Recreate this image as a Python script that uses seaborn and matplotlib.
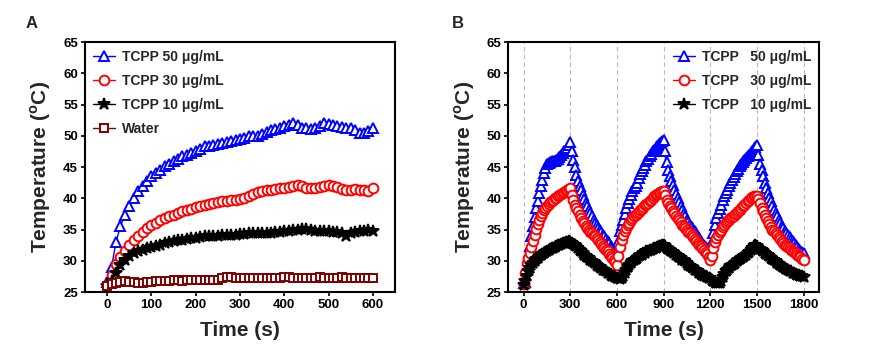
"""Photothermal heating curves of TCPP solutions (panels A and B)."""

import matplotlib
matplotlib.use("Agg")
import matplotlib.pyplot as plt
import numpy as np
import seaborn as sns

# ---- panel A: heating curves, one reading every 10 s ----
time_a = np.arange(0, 610, 10)
tcpp50_a = [26.6, 29.0, 33.0, 35.5, 37.3, 38.8, 40.1, 41.1, 42.0, 42.8,
            43.5, 44.1, 44.6, 45.1, 45.5, 45.9, 46.3, 46.7, 47.0, 47.3,
            47.6, 47.9, 48.3, 48.4, 48.5, 48.7, 48.8, 49.0, 49.1, 49.3, 49.5,
            49.7, 49.9, 50.0, 50.0, 50.3, 50.6, 50.9, 51.1, 51.3, 51.5,
            51.8, 52.1, 51.7, 51.3, 51.2, 51.1, 51.2, 51.6, 52.0, 51.9,
            51.8, 51.5, 51.4, 51.3, 51.2, 51.0, 50.5, 50.5, 50.8, 51.2]
tcpp30_a = [26.1, 27.7, 29.5, 30.6, 31.5, 32.5, 33.3, 34.0, 34.6, 35.2,
            35.7, 36.1, 36.5, 36.8, 37.1, 37.3, 37.6, 37.9, 38.1, 38.3,
            38.6, 38.8, 38.9, 39.1, 39.2, 39.4, 39.5, 39.6, 39.7, 39.7, 39.9,
            40.1, 40.4, 40.7, 41.0, 41.2, 41.3, 41.4, 41.5, 41.6, 41.7,
            41.8, 41.9, 42.1, 41.9, 41.6, 41.6, 41.7, 41.8, 41.9, 42.1,
            42.0, 41.8, 41.5, 41.3, 41.4, 41.5, 41.4, 41.3, 41.2, 41.6]
tcpp10_a = [26.0, 26.8, 28.0, 29.3, 30.2, 30.8, 31.2, 31.5, 31.8, 32.0,
            32.2, 32.4, 32.6, 32.8, 33.0, 33.2, 33.3, 33.4, 33.5, 33.6,
            33.7, 33.8, 33.9, 33.9, 34.0, 34.0, 34.1, 34.1, 34.2, 34.2, 34.3,
            34.3, 34.4, 34.4, 34.4, 34.5, 34.5, 34.5, 34.6, 34.6, 34.7,
            34.8, 34.9, 35.0, 35.1, 35.1, 34.9, 34.8, 34.8, 34.7, 34.7,
            34.6, 34.6, 34.5, 34.0, 34.4, 34.6, 34.7, 34.8, 35.0, 34.8]
water_a = [26.0, 26.3, 26.5, 26.6, 26.7, 26.6, 26.6, 26.5, 26.5, 26.6,
           26.6, 26.7, 26.8, 26.8, 26.8, 26.9, 26.9, 26.8, 26.9, 26.9,
           27.0, 26.9, 27.0, 26.9, 27.0, 27.0, 27.3, 27.4, 27.4, 27.3, 27.3,
           27.2, 27.2, 27.3, 27.3, 27.2, 27.2, 27.2, 27.3, 27.3, 27.4,
           27.4, 27.3, 27.3, 27.3, 27.2, 27.3, 27.3, 27.4, 27.3, 27.3,
           27.2, 27.3, 27.4, 27.3, 27.3, 27.2, 27.2, 27.3, 27.3, 27.3]

# ---- panel B: three laser on/off cycles, one reading every 10 s ----
time_b = np.arange(0, 1810, 10)
tcpp50_b = [26.4, 26.6, 28.5, 30.1, 32.3, 34.0, 35.6, 37.0, 38.4, 39.6,
            40.8, 42.0, 43.0, 44.0, 44.8, 45.5, 45.7, 45.8, 45.9, 46.0,
            46.0, 46.1, 46.3, 46.6, 47.0, 47.3, 47.5, 47.8, 48.0, 48.5, 49.0,
            47.5, 46.2, 45.0, 43.8, 42.8, 42.0, 41.3, 40.6, 39.9, 39.3,
            38.7, 38.1, 37.6, 37.1, 36.6, 36.1, 35.7, 35.3, 34.9, 34.6,
            34.2, 33.9, 33.5, 33.1, 32.8, 32.4, 32.0, 31.7, 31.5, 31.6,
            33.0, 34.8, 35.7, 36.6, 37.5, 38.4, 39.2, 39.9, 40.5, 41.1,
            41.6, 42.0, 42.5, 43.2, 43.9, 44.4, 44.9, 45.4, 45.9, 46.3,
            46.7, 47.1, 47.5, 47.8, 48.1, 48.4, 48.7, 48.9, 49.1, 49.3,
            47.5, 45.8, 44.5, 43.5, 42.8, 42.1, 41.4, 40.7, 40.1, 39.4,
            38.7, 38.1, 37.6, 37.1, 36.6, 36.2, 35.8, 35.4, 35.0, 34.7,
            34.3, 33.9, 33.6, 33.2, 32.8, 32.5, 32.2, 31.8, 31.6, 31.5,
            33.0, 34.5, 35.8, 36.8, 37.6, 38.3, 39.0, 39.7, 40.3, 40.9,
            41.4, 41.9, 42.4, 42.9, 43.4, 43.9, 44.3, 44.7, 45.1, 45.5,
            45.8, 46.1, 46.4, 46.7, 47.0, 47.3, 47.6, 47.9, 48.2, 48.5,
            47.0, 45.5, 44.5, 43.5, 42.4, 41.6, 40.8, 40.1, 39.5, 38.8,
            38.2, 37.6, 37.1, 36.6, 36.1, 35.6, 35.2, 34.8, 34.4, 34.1,
            33.8, 33.4, 33.1, 32.8, 32.5, 32.2, 31.9, 31.6, 31.4, 31.2]
tcpp30_b = [26.3, 28.0, 29.6, 30.4, 31.2, 32.2, 33.2, 34.2, 35.1, 35.9,
            36.6, 37.1, 37.6, 38.1, 38.5, 38.8, 39.1, 39.4, 39.6, 39.8,
            40.0, 40.1, 40.3, 40.5, 40.7, 40.9, 41.0, 41.2, 41.3, 41.5, 41.6,
            40.6, 39.8, 39.0, 38.4, 37.9, 37.3, 36.8, 36.4, 36.0, 35.6,
            35.2, 34.9, 34.6, 34.4, 34.1, 33.9, 33.6, 33.3, 33.0, 32.7,
            32.4, 32.1, 31.8, 31.5, 31.1, 30.8, 30.4, 30.1, 29.8, 29.4,
            30.8, 32.2, 33.3, 34.1, 34.8, 35.3, 35.7, 36.1, 36.5, 36.8,
            37.1, 37.4, 37.6, 37.8, 38.1, 38.3, 38.6, 38.9, 39.1, 39.3,
            39.6, 39.8, 40.0, 40.3, 40.5, 40.7, 40.9, 41.0, 41.1, 41.2,
            40.6, 39.8, 39.2, 38.8, 38.4, 38.0, 37.6, 37.2, 36.9, 36.5,
            36.2, 35.8, 35.5, 35.2, 34.9, 34.6, 34.4, 34.1, 33.8, 33.5,
            33.2, 32.9, 32.6, 32.3, 32.0, 31.7, 31.4, 31.1, 30.6, 30.2,
            30.8, 32.0, 33.0, 33.7, 34.2, 34.6, 35.0, 35.4, 35.8, 36.1,
            36.3, 36.5, 36.8, 37.0, 37.2, 37.5, 37.7, 38.0, 38.2, 38.5,
            38.7, 39.0, 39.2, 39.5, 39.7, 40.0, 40.2, 40.3, 40.4, 40.3,
            39.9, 39.2, 38.5, 37.9, 37.3, 36.8, 36.3, 35.9, 35.4, 35.0,
            34.7, 34.4, 34.1, 33.8, 33.5, 33.2, 32.9, 32.6, 32.4, 32.2,
            32.0, 31.8, 31.6, 31.4, 31.2, 31.0, 30.8, 30.6, 30.3, 30.1]
tcpp10_b = [26.1, 26.8, 27.6, 28.3, 28.9, 29.4, 29.7, 30.0, 30.3, 30.5,
            30.7, 30.9, 31.1, 31.3, 31.4, 31.6, 31.7, 31.9, 32.0, 32.1,
            32.2, 32.4, 32.5, 32.6, 32.7, 32.8, 32.9, 33.0, 33.0, 33.1, 33.0,
            32.9, 32.7, 32.5, 32.3, 32.0, 31.7, 31.5, 31.2, 31.0, 30.8,
            30.6, 30.4, 30.2, 30.0, 29.8, 29.6, 29.4, 29.2, 29.0, 28.8,
            28.6, 28.5, 28.3, 28.1, 28.0, 27.8, 27.6, 27.5, 27.4, 27.3,
            27.2, 27.1, 27.2, 27.5, 28.0, 28.6, 29.0, 29.3, 29.6, 29.9,
            30.1, 30.3, 30.5, 30.7, 30.9, 31.0, 31.2, 31.3, 31.5, 31.6,
            31.7, 31.8, 31.9, 32.0, 32.1, 32.2, 32.3, 32.4, 32.5, 32.5,
            32.3, 32.1, 31.9, 31.7, 31.5, 31.4, 31.2, 31.0, 30.8, 30.6,
            30.4, 30.2, 30.1, 29.9, 29.6, 29.4, 29.2, 29.0, 28.8, 28.6,
            28.5, 28.3, 28.1, 27.9, 27.8, 27.6, 27.5, 27.4, 27.3, 27.2,
            27.0, 26.8, 26.6, 26.5, 26.4, 26.4, 26.8, 27.4, 27.9, 28.3,
            28.6, 28.9, 29.1, 29.3, 29.5, 29.7, 29.9, 30.1, 30.3, 30.4,
            30.6, 30.8, 31.0, 31.2, 31.4, 31.7, 32.0, 32.4, 32.5, 32.3,
            32.1, 31.9, 31.7, 31.5, 31.3, 31.1, 30.9, 30.7, 30.5, 30.3,
            30.1, 29.9, 29.7, 29.5, 29.3, 29.2, 29.0, 28.8, 28.7, 28.5,
            28.4, 28.3, 28.1, 28.0, 27.9, 27.8, 27.7, 27.6, 27.5, 27.4]

Y_TICKS = [25, 30, 35, 40, 45, 50, 55, 60, 65]
X_TICKS_A = [0, 100, 200, 300, 400, 500, 600]
X_TICKS_B = [0, 300, 600, 900, 1200, 1500, 1800]

BLUE, RED, BLACK, MAROON = "#0000FF", "#FF0000", "#000000", "#800000"

sns.set_theme(style="ticks")
plt.rcParams.update({
    "font.family": ["Liberation Sans", "DejaVu Sans"],
    "font.weight": "bold",
    "axes.labelweight": "bold",
    "mathtext.fontset": "custom",
    "mathtext.rm": "Liberation Sans:bold",
    "mathtext.bf": "Liberation Sans:bold",
    "axes.linewidth": 1.5,
    "axes.edgecolor": "black",
    "xtick.color": "black",
    "ytick.color": "black",
})


def draw(ax, x, y, color, marker, size, label, face="white", lw=1.0):
    sns.lineplot(x=x, y=y, ax=ax, color=color, marker=marker, markersize=size,
                 markerfacecolor=face, markeredgecolor=color,
                 markeredgewidth=1.4, linewidth=lw, label=label, sort=False)


def style_axes(ax, xticks, xlim):
    ax.set_xlim(*xlim)
    ax.set_ylim(25, 65)
    ax.set_xticks(xticks)
    ax.set_yticks(Y_TICKS)
    ax.tick_params(direction="out", length=3, width=1.2, labelsize=9.5, pad=2)
    for lab in ax.get_xticklabels() + ax.get_yticklabels():
        lab.set_fontweight("bold")
    ax.set_xlabel("Time (s)", fontsize=15, fontweight="bold", labelpad=7)
    ax.set_ylabel(r"Temperature ($^{\mathbf{o}}$C)", fontsize=15,
                  fontweight="bold", labelpad=7)
    for sp in ax.spines.values():
        sp.set_visible(True)
        sp.set_linewidth(1.5)


fig = plt.figure(figsize=(8.76, 3.54), dpi=100)
ax_a = fig.add_axes([0.097, 0.175, 0.354, 0.706])
ax_b = fig.add_axes([0.580, 0.175, 0.355, 0.706])

legend_kw = dict(frameon=False, handlelength=1.6, handletextpad=0.5,
                 labelspacing=0.72, borderaxespad=0.15,
                 prop={"weight": "bold", "size": 10})

# Panel A
draw(ax_a, time_a, tcpp50_a, BLUE, "^", 7.5, "TCPP 50 μg/mL")
draw(ax_a, time_a, tcpp30_a, RED, "o", 7, "TCPP 30 μg/mL")
draw(ax_a, time_a, tcpp10_a, BLACK, "*", 9, "TCPP 10 μg/mL", face=BLACK)
draw(ax_a, time_a, water_a, MAROON, "s", 5.5, "Water")
style_axes(ax_a, X_TICKS_A, (-50, 650))
ax_a.legend(loc="upper left", **legend_kw)

# Panel B
for xv in X_TICKS_B:
    ax_b.axvline(xv, color="#BBBBBB", lw=0.8, ls=(0, (4, 3)), zorder=0)
draw(ax_b, time_b, tcpp50_b, BLUE, "^", 7.5, "TCPP   50 μg/mL")
draw(ax_b, time_b, tcpp30_b, RED, "o", 7, "TCPP   30 μg/mL")
draw(ax_b, time_b, tcpp10_b, BLACK, "*", 9, "TCPP   10 μg/mL", face=BLACK)
style_axes(ax_b, X_TICKS_B, (-100, 1900))
ax_b.legend(loc="upper right", **legend_kw)

fig.text(0.029, 0.935, "A", fontsize=12, fontweight="bold", va="center")
fig.text(0.516, 0.935, "B", fontsize=12, fontweight="bold", va="center")

fig.savefig("out.png", dpi=100, facecolor="white")
